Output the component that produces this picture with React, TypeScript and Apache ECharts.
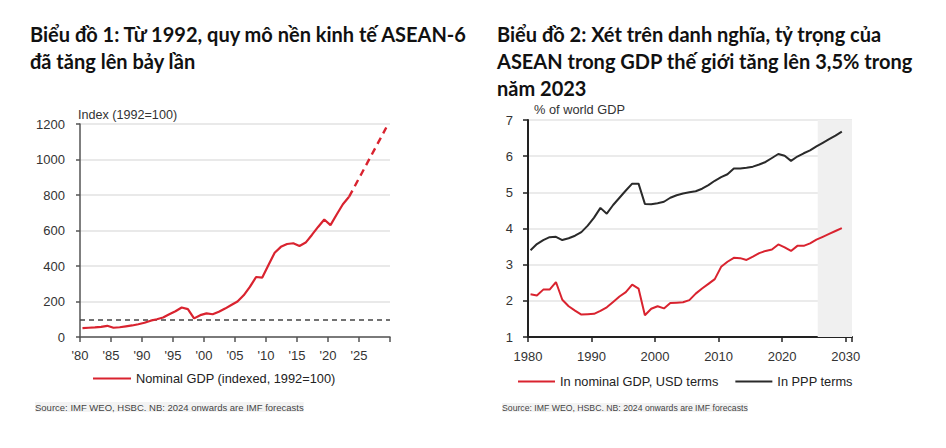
import React, { useEffect, useRef } from "react";
import * as echarts from "echarts";

// ---------- Data ----------
const YEARS = [
  1980, 1981, 1982, 1983, 1984, 1985, 1986, 1987, 1988, 1989,
  1990, 1991, 1992, 1993, 1994, 1995, 1996, 1997, 1998, 1999,
  2000, 2001, 2002, 2003, 2004, 2005, 2006, 2007, 2008, 2009,
  2010, 2011, 2012, 2013, 2014, 2015, 2016, 2017, 2018, 2019,
  2020, 2021, 2022, 2023, 2024, 2025, 2026, 2027, 2028, 2029,
];

// Chart 1: ASEAN-6 nominal GDP index (1992=100)
const NOMINAL_INDEX = [
  50, 52, 54, 57, 63, 52, 55, 60, 65, 72,
  80, 92, 100, 110, 128, 145, 166, 157, 105, 123,
  133, 128, 142, 160, 180, 200, 235, 282, 338, 335,
  405, 475, 508, 524, 528, 513, 532, 575, 620, 662,
  630, 690, 748, 790, 855, 920, 985, 1050, 1115, 1180,
];
const INDEX_BASE = 100;
const FORECAST_FROM = 2023; // dashed from here on

// Chart 2: share of world GDP (%)
const SHARE_NOMINAL = [
  2.18, 2.15, 2.31, 2.31, 2.52, 2.03, 1.85, 1.73, 1.62, 1.63,
  1.64, 1.72, 1.82, 1.97, 2.12, 2.24, 2.45, 2.34, 1.6, 1.78,
  1.85, 1.79, 1.94, 1.95, 1.96, 2.02, 2.2, 2.34, 2.47, 2.6,
  2.94, 3.08, 3.19, 3.18, 3.13, 3.22, 3.32, 3.38, 3.42, 3.56,
  3.48, 3.38, 3.52, 3.52, 3.59, 3.69, 3.77, 3.85, 3.93, 4.01,
];
const SHARE_PPP = [
  3.4, 3.57, 3.68, 3.76, 3.77, 3.68, 3.73, 3.8, 3.9, 4.08,
  4.3, 4.57, 4.41, 4.65, 4.85, 5.05, 5.24, 5.24, 4.68, 4.67,
  4.7, 4.74, 4.85, 4.92, 4.97, 5.0, 5.03, 5.1, 5.2, 5.32,
  5.42, 5.5, 5.66, 5.66, 5.68, 5.71, 5.77, 5.84, 5.95, 6.06,
  6.01, 5.87, 5.99, 6.08, 6.16, 6.27, 6.37, 6.47, 6.57, 6.68,
];
const SHADE_RANGE = [2025.6, 2031];

const TITLE_1 = "Biểu đồ 1: Từ 1992, quy mô nền kinh tế ASEAN-6\nđã tăng lên bảy lần";
const TITLE_2 =
  "Biểu đồ 2: Xét trên danh nghĩa, tỷ trọng của\nASEAN trong GDP thế giới tăng lên 3,5% trong\nnăm 2023";
const Y_NAME_1 = "Index (1992=100)";
const Y_NAME_2 = "% of world GDP";
const LEGEND_1 = "Nominal GDP (indexed, 1992=100)";
const LEGEND_2A = "In nominal GDP, USD terms";
const LEGEND_2B = "In PPP terms";
const SOURCE = "Source: IMF WEO, HSBC. NB: 2024 onwards are IMF forecasts";

// ---------- Style ----------
const RED = "#d9232f";
const BLACK = "#2a2a2a";
const FONT = "'Liberation Sans', Arial, sans-serif";
const TITLE_FONT = "Lato, 'Open Sans', sans-serif";
const X_OFFSET = 0.4; // annual values plotted near mid-year

export default function App() {
  const ref = useRef<HTMLDivElement>(null);

  useEffect(() => {
    if (!ref.current) return;
    const chart = echarts.init(ref.current, undefined, { renderer: "svg" });

    const pts = (vals: number[], from?: number, to?: number) =>
      YEARS.map((y, i) => [y + X_OFFSET, vals[i], y] as [number, number, number])
        .filter((p) => (from === undefined || p[2] >= from) && (to === undefined || p[2] <= to))
        .map((p) => [p[0], p[1]]);

    const axisLabel = { color: "#333", fontSize: 13, fontFamily: FONT };
    const titleStyle = { fontFamily: TITLE_FONT, fontWeight: "bold", fontSize: 20, lineHeight: 27, color: "#111" };
    const legendText = { fontFamily: FONT, fontSize: 12.8, color: "#222" };

    const option: any = {
      animation: false,
      backgroundColor: "#fff",
      title: [
        { text: TITLE_1, left: 30, top: 20, padding: 0, textStyle: titleStyle },
        { text: TITLE_2, left: 497, top: 20, padding: 0, textStyle: titleStyle },
      ],
      legend: [
        {
          data: [LEGEND_1],
          left: 93,
          top: 372,
          padding: 0,
          icon: "rect",
          itemWidth: 38,
          itemHeight: 2,
          textStyle: legendText,
        },
        {
          data: [LEGEND_2A, LEGEND_2B],
          left: 518,
          top: 375,
          padding: 0,
          icon: "rect",
          itemWidth: 37,
          itemHeight: 2,
          itemGap: 17,
          textStyle: legendText,
        },
      ],
      grid: [
        { left: 80, top: 124, width: 310, height: 213 },
        { left: 528, top: 120, width: 324, height: 217 },
      ],
      xAxis: [
        {
          type: "value",
          gridIndex: 0,
          min: 1980,
          max: 2030,
          interval: 5,
          axisLine: { show: true, lineStyle: { color: "#555", width: 1.5 } },
          axisTick: { show: true, length: 5, lineStyle: { color: "#555", width: 1.5 } },
          splitLine: { show: false },
          axisLabel: {
            ...axisLabel,
            margin: 12,
            formatter: (v: number) => (v >= 2030 ? "" : "'" + String(v).slice(2)),
          },
        },
        {
          type: "value",
          gridIndex: 1,
          min: 1980,
          max: 2031,
          interval: 10,
          axisLine: { show: true, lineStyle: { color: "#222", width: 2 } },
          axisTick: { show: true, length: 5, lineStyle: { color: "#222", width: 1.5 } },
          splitLine: { show: false },
          axisLabel: {
            ...axisLabel,
            margin: 13,
            formatter: (v: number) => (v % 10 === 0 ? String(v) : ""),
          },
        },
      ],
      yAxis: [
        {
          type: "value",
          gridIndex: 0,
          min: 0,
          max: 1200,
          interval: 200,
          name: Y_NAME_1,
          nameLocation: "end",
          nameGap: 3,
          nameTextStyle: { align: "left", fontFamily: FONT, fontSize: 12.6, color: "#333", padding: [0, 0, 0, -2] },
          axisLine: { show: true, lineStyle: { color: "#555", width: 1.5 } },
          axisTick: { show: true, length: 4, lineStyle: { color: "#555", width: 1.5 } },
          splitLine: { show: true, lineStyle: { color: "#e2e2e2", width: 1.5 } },
          axisLabel: { ...axisLabel, margin: 15, formatter: (v: number) => String(v) },
        },
        {
          type: "value",
          gridIndex: 1,
          min: 1,
          max: 7,
          interval: 1,
          name: Y_NAME_2,
          nameLocation: "end",
          nameGap: 4,
          nameTextStyle: { align: "left", fontFamily: FONT, fontSize: 12.8, color: "#333", padding: [0, 0, 0, 6] },
          axisLine: { show: true, lineStyle: { color: "#222", width: 2 } },
          axisTick: { show: true, length: 5, lineStyle: { color: "#222", width: 1.5 } },
          splitLine: { show: true, lineStyle: { color: "#e4e4e4", width: 1.5 } },
          axisLabel: { ...axisLabel, margin: 15, formatter: (v: number) => String(v) },
        },
      ],
      series: [
        {
          name: LEGEND_1,
          type: "line",
          xAxisIndex: 0,
          yAxisIndex: 0,
          data: pts(NOMINAL_INDEX, undefined, FORECAST_FROM),
          showSymbol: false,
          symbol: "none",
          lineStyle: { color: RED, width: 2.2 },
          itemStyle: { color: RED },
          z: 3,
          markLine: {
            silent: true,
            symbol: "none",
            label: { show: false },
            lineStyle: { color: "#444", width: 1.5, type: [5, 4] },
            data: [{ yAxis: INDEX_BASE }],
            z: 2,
          },
        },
        {
          name: "forecast",
          type: "line",
          xAxisIndex: 0,
          yAxisIndex: 0,
          data: pts(NOMINAL_INDEX, FORECAST_FROM),
          showSymbol: false,
          symbol: "none",
          lineStyle: { color: RED, width: 2.4, type: [7, 5] },
          itemStyle: { color: RED },
        },
        {
          name: LEGEND_2A,
          type: "line",
          xAxisIndex: 1,
          yAxisIndex: 1,
          data: pts(SHARE_NOMINAL),
          showSymbol: false,
          symbol: "none",
          lineStyle: { color: RED, width: 2 },
          itemStyle: { color: RED },
          z: 3,
          markArea: {
            silent: true,
            itemStyle: { color: "#f0f0f0" },
            data: [[{ xAxis: SHADE_RANGE[0] }, { xAxis: SHADE_RANGE[1] }]],
          },
        },
        {
          name: LEGEND_2B,
          type: "line",
          xAxisIndex: 1,
          yAxisIndex: 1,
          data: pts(SHARE_PPP),
          showSymbol: false,
          symbol: "none",
          lineStyle: { color: BLACK, width: 2 },
          itemStyle: { color: BLACK },
          z: 3,
        },
      ],
      graphic: [
        {
          type: "text",
          left: 35,
          top: 402,
          style: { text: SOURCE, fontFamily: FONT, fontSize: 9.5, fill: "#444", backgroundColor: "#f3f3f3" },
        },
        {
          type: "text",
          left: 502,
          top: 403,
          style: { text: SOURCE, fontFamily: FONT, fontSize: 8.7, fill: "#444", backgroundColor: "#f3f3f3" },
        },
      ],
    };

    chart.setOption(option);
    return () => chart.dispose();
  }, []);

  return (
    <div
      ref={ref}
      style={{ position: "absolute", left: 0, top: 0, width: 946, height: 448, background: "#fff" }}
    />
  );
}
